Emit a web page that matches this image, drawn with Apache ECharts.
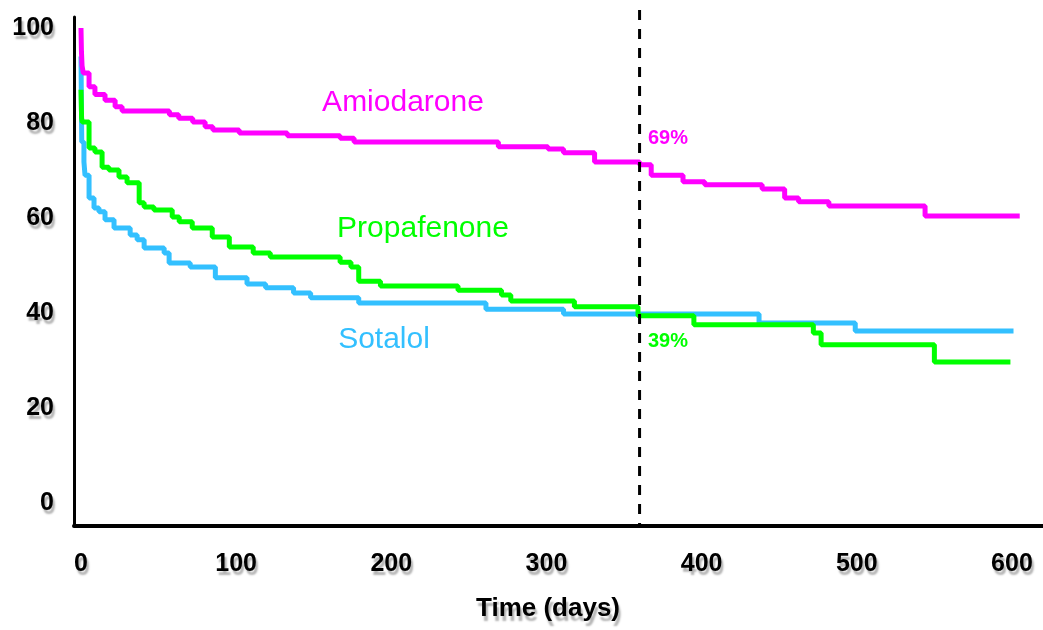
<!DOCTYPE html>
<html>
<head>
<meta charset="utf-8">
<script src="https://cdn.jsdelivr.net/npm/echarts@6/dist/echarts.min.js"></script>
<style>
  html, body { margin: 0; padding: 0; background: #fff; }
  #main { width: 1043px; height: 630px; }
</style>
</head>
<body>
<div id="main"></div>
<script>
// Kaplan-Meier style curves (day, % free of event)
var amioDays = [0, 0.3, 0.7, 1.5, 5.2, 9, 15.5, 22, 26.5, 57, 63, 72, 80, 85, 102, 133, 167, 176, 269, 301, 311, 331, 360, 367.5, 388, 402, 439, 453.5, 462.5, 482, 544, 605];
var amioSurv = [100, 95, 92, 90.5, 87.6, 86, 84.8, 83.4, 82.5, 81.7, 81, 80.2, 79.2, 78.5, 77.9, 77.3, 76.8, 76, 75, 74.5, 73.7, 71.8, 71.2, 69, 67.6, 67, 66.1, 64.2, 63.4, 62.5, 60.4, 60.4];

var propDays = [0, 0.4, 0.8, 5.2, 9, 13.6, 18, 24.5, 29.7, 37.5, 40.7, 47, 58.8, 63.3, 71.7, 84.6, 95.6, 111, 122, 167, 174, 179, 193, 243, 271, 277, 318, 359, 395, 472, 477, 550, 599];
var propSurv = [87, 81, 80.2, 74.7, 73.9, 70.7, 70.1, 68.6, 67.4, 63.2, 62.3, 61.7, 60.2, 59.2, 57.9, 56, 53.9, 52.6, 51.8, 50.7, 49.7, 46.7, 45.7, 44.8, 43.8, 42.5, 41.3, 39.4, 37.5, 35.8, 33.3, 29.7, 29.7];

var sotaDays = [0, 0.5, 1.9, 2.6, 5.2, 8.4, 11.6, 15.5, 21.3, 31.7, 36.2, 40.7, 53.6, 56.8, 70.4, 86.6, 107, 119, 137, 148, 179, 261, 311, 437, 499, 601];
var sotaSurv = [94, 76, 71.8, 69, 64.2, 62.1, 61.3, 59.6, 57.9, 56.4, 55.4, 53.7, 52.6, 50.5, 49.7, 47.4, 46.1, 45.3, 44.2, 43.2, 42.1, 40.8, 39.8, 37.9, 36.2, 36.2];

var xTicks = [0, 100, 200, 300, 400, 500, 600];
var yTicks = [0, 20, 40, 60, 80, 100];
var cutoffDay = 360;

var names = ["Amiodarone", "Propafenone", "Sotalol"];
var colors = ["#ff00ff", "#00ff00", "#33c0ff"];
var pctLabels = ["69%", "39%"];
var xTitle = "Time (days)";

function pairs(d, v) {
  return d.map(function (x, i) { return [x, v[i]]; });
}

var font = "'Liberation Sans', Arial, sans-serif";
var shadow = {
  textShadowColor: "rgba(0,0,0,0.3)",
  textShadowOffsetX: 2,
  textShadowOffsetY: 4,
  textShadowBlur: 2
};

var myChart = echarts.init(document.getElementById("main"));

var option = {
  animation: false,
  backgroundColor: "#fff",
  grid: {
    left: 74,
    right: 0,
    top: 17,
    bottom: 104,
    containLabel: false,
    outerBoundsMode: "none"
  },
  xAxis: {
    type: "value",
    min: -4.5,
    max: 620,
    axisLine: { onZero: false, lineStyle: { color: "#000", width: 4 } },
    axisTick: { show: false },
    splitLine: { show: false },
    axisLabel: Object.assign({
      customValues: xTicks,
      margin: 26,
      fontFamily: font, fontWeight: "bold", fontSize: 25, color: "#000"
    }, shadow)
  },
  yAxis: {
    type: "value",
    min: -4.84,
    max: 102.3,
    axisLine: { show: true, onZero: false, lineStyle: { color: "#000", width: 3 } },
    axisTick: { show: false },
    splitLine: { show: false },
    axisLabel: Object.assign({
      customValues: yTicks,
      margin: 20,
      fontFamily: font, fontWeight: "bold", fontSize: 25, color: "#000"
    }, shadow)
  },
  series: [
    {
      name: names[2], type: "line", step: "end", showSymbol: false,
      data: pairs(sotaDays, sotaSurv),
      lineStyle: { color: colors[2], width: 5 }, z: 2
    },
    {
      name: names[1], type: "line", step: "end", showSymbol: false,
      data: pairs(propDays, propSurv),
      lineStyle: { color: colors[1], width: 5 }, z: 3
    },
    {
      name: names[0], type: "line", step: "end", showSymbol: false,
      data: pairs(amioDays, amioSurv),
      lineStyle: { color: colors[0], width: 5 }, z: 4
    }
  ]
};
myChart.setOption(option);

var cx = myChart.convertToPixel({ xAxisIndex: 0 }, cutoffDay);

function label(text, x, y, color, size, bold, withShadow) {
  var style = {
    text: text, fill: color, align: "center", verticalAlign: "middle",
    font: (bold ? "bold " : "") + size + "px " + font
  };
  if (withShadow) {
    style.textShadowColor = "rgba(0,0,0,0.3)";
    style.textShadowOffsetX = 2;
    style.textShadowOffsetY = 5;
    style.textShadowBlur = 2;
  }
  return { type: "text", x: x, y: y, z: 100, style: style };
}

myChart.setOption({
  graphic: [
    {
      type: "line", z: 50,
      shape: { x1: cx, y1: 10, x2: cx, y2: 526 },
      style: { stroke: "#000", lineWidth: 3, lineDash: [10, 9] }
    },
    label(names[0], 403, 103, colors[0], 30, false),
    label(names[1], 423, 229, colors[1], 30, false),
    label(names[2], 384, 340, colors[2], 30, false),
    label(pctLabels[0], 668, 138, colors[0], 20, true),
    label(pctLabels[1], 668, 341, colors[1], 20, true),
    label(xTitle, 548, 609, "#000", 26, true, true)
  ]
});
</script>
</body>
</html>
